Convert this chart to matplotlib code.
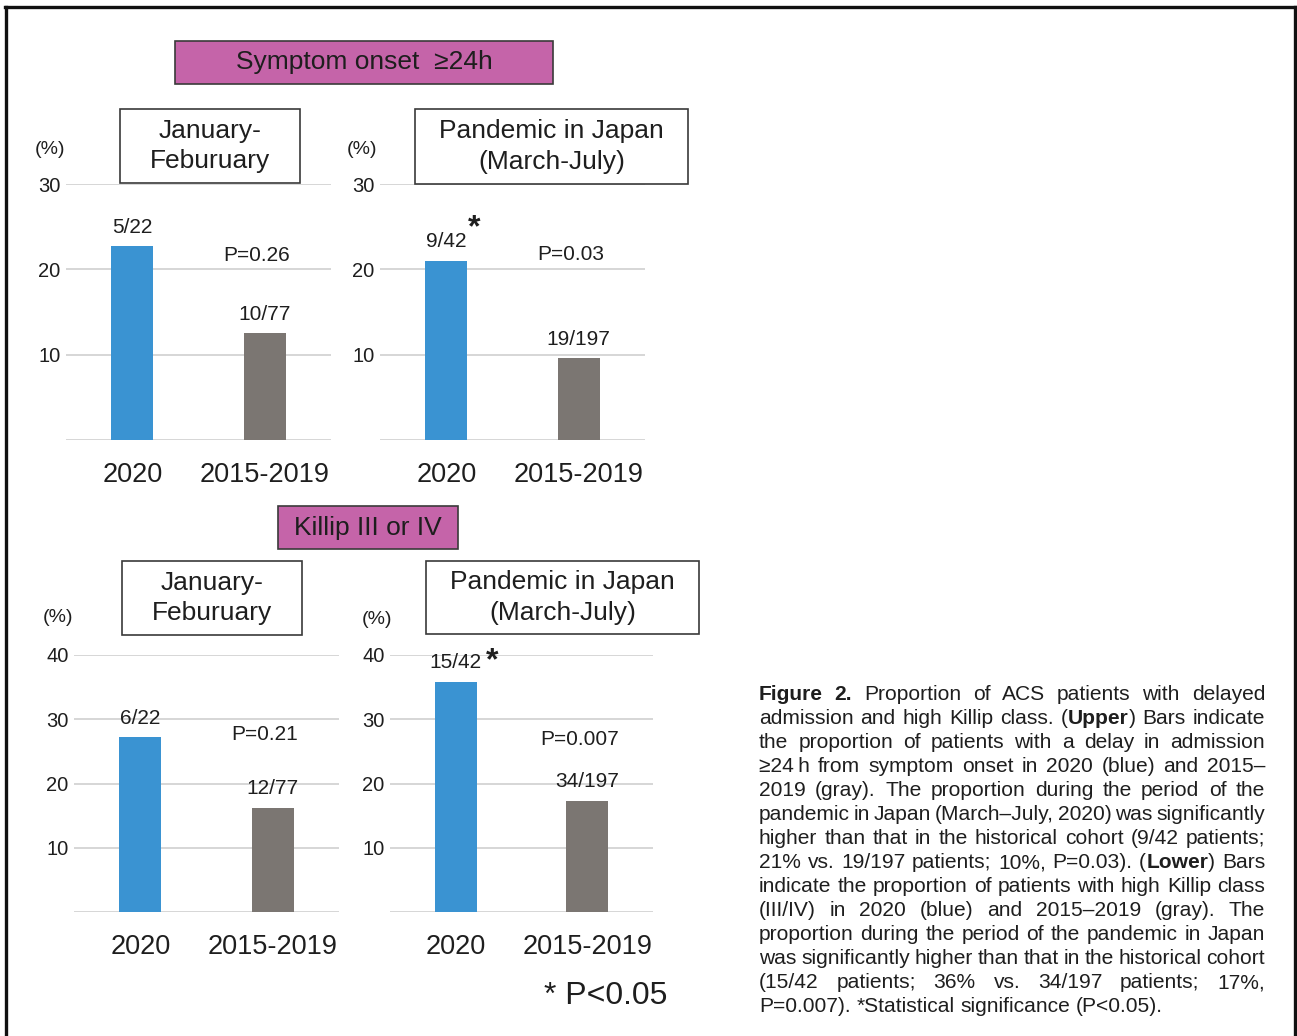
import matplotlib
matplotlib.use("Agg")
import matplotlib.pyplot as plt
from matplotlib.patches import Rectangle
from matplotlib.lines import Line2D
from matplotlib.transforms import IdentityTransform

plt.rcParams['font.family'] = ['Liberation Sans', 'DejaVu Sans']

# ---- data ----
groups = ['2020', '2015-2019']
onset_jan_feb = [22.7, 12.5]
onset_pandemic = [21.0, 9.6]
killip_jan_feb = [27.2, 16.2]
killip_pandemic = [35.8, 17.3]

onset_jan_feb_n = ['5/22', '10/77']
onset_pandemic_n = ['9/42', '19/197']
killip_jan_feb_n = ['6/22', '12/77']
killip_pandemic_n = ['15/42', '34/197']

p_values = ['P=0.26', 'P=0.03', 'P=0.21', 'P=0.007']
significant = [False, True, False, True]
period_titles = ['January-\nFeburuary', 'Pandemic in Japan\n(March-July)']
section_titles = ['Symptom onset  \u226524h', 'Killip III or IV']

BLUE = '#3a93d2'
GRAY = '#7b7672'
MAGENTA = '#c564a9'
GRID = '#cfcfcf'
TXT = '#1e1e1e'

W, H = 1297, 1036
fig = plt.figure(figsize=(W / 100, H / 100), dpi=100)


def fx(x):
    return x / W


def fy(y):
    return 1 - y / H


def add_box(x0, y0, x1, y1, text, face, size, ls=1.35):
    fig.add_artist(Rectangle((fx(x0), fy(y1)), fx(x1 - x0), (y1 - y0) / H,
                             transform=fig.transFigure, facecolor=face,
                             edgecolor='#3a3a3a', lw=1.2))
    fig.text(fx((x0 + x1) / 2), fy((y0 + y1) / 2), text, ha='center',
             va='center', fontsize=size, color=TXT, linespacing=ls)


# panel layout: axes box in pixels (left, right, top gridline, baseline), ymax
panels = [
    dict(box=(66, 331, 184, 440), ymax=30, vals=onset_jan_feb, n=onset_jan_feb_n,
         p=p_values[0], sig=significant[0], py=0.72, star=None, pct=(50, 150)),
    dict(box=(380, 645, 184, 440), ymax=30, vals=onset_pandemic, n=onset_pandemic_n,
         p=p_values[1], sig=significant[1], py=0.725, star=(28, 33), pct=(362, 150)),
    dict(box=(74, 339, 655, 912), ymax=40, vals=killip_jan_feb, n=killip_jan_feb_n,
         p=p_values[2], sig=significant[2], py=0.69, star=None, pct=(58, 617)),
    dict(box=(390, 653, 655, 912), ymax=40, vals=killip_pandemic, n=killip_pandemic_n,
         p=p_values[3], sig=significant[3], py=0.672, star=(36, 21), pct=(377, 619)),
]

for pnl in panels:
    l, r, t, b = pnl['box']
    ax = fig.add_axes([fx(l), fy(b), fx(r - l), (b - t) / H])
    ax.bar([0, 1], pnl['vals'], width=0.32, color=[BLUE, GRAY], zorder=3)
    ax.set_xlim(-0.5, 1.5)
    ax.set_ylim(0, pnl['ymax'])
    for v in range(0, pnl['ymax'] + 1, 10):
        ax.axhline(v, color=GRID, lw=1.2, zorder=1)
    ticks = list(range(10, pnl['ymax'] + 1, 10))
    ax.set_yticks(ticks)
    ax.set_yticklabels([str(v) for v in ticks], fontsize=14.5, color=TXT)
    ax.set_xticks([0, 1])
    ax.set_xticklabels(groups, fontsize=19.5, color=TXT)
    ax.tick_params(axis='y', length=0, pad=4)
    ax.tick_params(axis='x', length=0, pad=16)
    for s in ax.spines.values():
        s.set_visible(False)
    ax.patch.set_visible(False)
    for i, (v, lab) in enumerate(zip(pnl['vals'], pnl['n'])):
        ax.annotate(lab, (i, v), xytext=(0, 19), textcoords='offset pixels',
                    ha='center', va='center', fontsize=15, color=TXT)
    if pnl['sig'] and pnl['star']:
        ax.annotate('*', (0, pnl['vals'][0]), xytext=pnl['star'],
                    textcoords='offset pixels', ha='center', va='center',
                    fontsize=23, fontweight='bold', color=TXT)
    ax.text(0.72, pnl['py'], pnl['p'], transform=ax.transAxes, ha='center',
            va='center', fontsize=15, color=TXT)
    fig.text(fx(pnl['pct'][0]), fy(pnl['pct'][1]), '(%)', ha='center',
             va='center', fontsize=14, color=TXT)

# section and period boxes
add_box(175, 41, 553, 84, section_titles[0], MAGENTA, 19)
add_box(278, 506, 458, 549, section_titles[1], MAGENTA, 19)
add_box(120, 109, 300, 183, period_titles[0], 'white', 19)
add_box(415, 109, 688, 184, period_titles[1], 'white', 19)
add_box(122, 561, 302, 635, period_titles[0], 'white', 19)
add_box(426, 561, 699, 634, period_titles[1], 'white', 19)

fig.text(fx(606), fy(996), '* P<0.05', ha='center', va='center', fontsize=23,
         color=TXT)

# outer frame (top, left, right)
for xs, ys in [((5, 1296), (7, 7)), ((6, 6), (7, 1036)), ((1295, 1295), (7, 1036))]:
    fig.add_artist(Line2D([fx(x) for x in xs], [fy(y) for y in ys],
                          transform=fig.transFigure, color='#111111', lw=2.4))

# ---- justified caption ----
B = True
caption = [
    [[('Figure', B)], [('2.', B)], [('Proportion', 0)], [('of', 0)], [('ACS', 0)],
     [('patients', 0)], [('with', 0)], [('delayed', 0)]],
    'admission and high Killip class. ( Upper ) Bars indicate',
    'the proportion of patients with a delay in admission',
    '\u226524\u2009h from symptom onset in 2020 (blue) and 2015\u2013',
    '2019 (gray). The proportion during the period of the',
    'pandemic in Japan (March\u2013July, 2020) was significantly',
    'higher than that in the historical cohort (9/42 patients;',
    '21% vs. 19/197 patients; 10%, P=0.03). ( Lower ) Bars',
    'indicate the proportion of patients with high Killip class',
    '(III/IV) in 2020 (blue) and 2015\u20132019 (gray). The',
    'proportion during the period of the pandemic in Japan',
    'was significantly higher than that in the historical cohort',
    '(15/42 patients; 36% vs. 34/197 patients; 17%,',
    'P=0.007). *Statistical significance (P<0.05).',
]


def to_words(line):
    if not isinstance(line, str):
        return line
    words = []
    toks = line.split(' ')
    i = 0
    while i < len(toks):
        tk = toks[i]
        if tk == '(' and i + 2 < len(toks):
            words.append([('(', 0), (toks[i + 1], B), (toks[i + 2], 0)])
            i += 3
            continue
        words.append([(tk, 0)])
        i += 1
    return words


renderer = fig.canvas.get_renderer()
CX0, CX1 = 759, 1265


def width(s, bold, size):
    t = fig.text(0, 0, s, fontsize=size, fontweight='bold' if bold else 'normal')
    w = t.get_window_extent(renderer).width
    t.remove()
    return w


# fit font size so the tightest line spans the column
ref = 'indicate the proportion of patients with high Killip class'
csize = 10 * (CX1 - CX0) / width(ref, False, 10)

for k, line in enumerate(caption):
    words = to_words(line)
    ws = [[width(s, b, csize) for s, b in wd] for wd in words]
    tot = sum(sum(w) for w in ws)
    last = k == len(caption) - 1
    gap = width('a a', False, csize) - 2 * width('a', False, csize)
    if not last:
        gap = (CX1 - CX0 - tot) / (len(words) - 1)
    x = CX0
    y = H - (695 + 24 * k)
    for wd, wl in zip(words, ws):
        for (s, b), w in zip(wd, wl):
            fig.text(x, y, s, transform=IdentityTransform(), fontsize=csize,
                     fontweight='bold' if b else 'normal', color=TXT,
                     va='center', ha='left')
            x += w
        x += gap

fig.savefig('out.png', dpi=100, facecolor='white')
